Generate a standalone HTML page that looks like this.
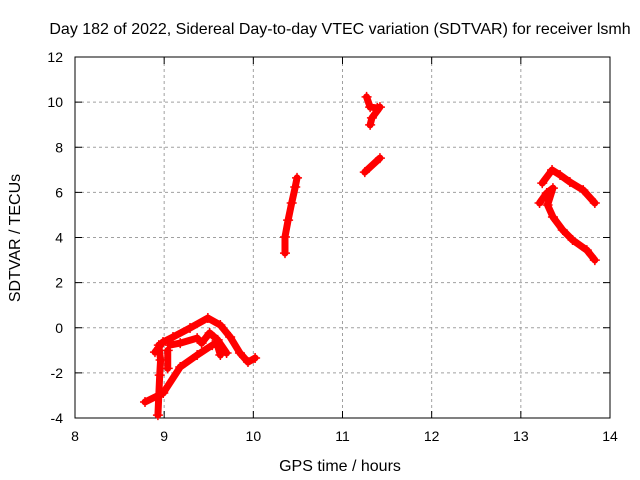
<!DOCTYPE html>
<html><head><meta charset="utf-8"><style>
body{margin:0;background:#fff}
svg{display:block;font-family:"Liberation Sans",sans-serif}
</style></head><body>
<svg id="c" width="640" height="480"></svg>
<script>
const xTicks=[8,9,10,11,12,13,14];
const yTicks=[-4,-2,0,2,4,6,8,10,12];
const trackA=[[8.897,-1.08],[8.987,-0.63],[9.099,-0.41],[9.29,-0.01],[9.49,0.43],[9.63,0.12],[9.74,-0.41],[9.85,-1.12],[9.94,-1.52],[10.02,-1.34]];
const trackB=[[9.065,-0.77],[9.18,-0.68],[9.37,-0.46],[9.42,-0.68],[9.51,-0.23],[9.60,-0.54],[9.70,-1.12]];
const trackC=[[8.785,-3.29],[8.99,-2.89],[9.18,-1.74],[9.37,-1.21],[9.54,-0.77],[9.59,-0.68],[9.63,-1.21]];
const trackD=[[8.93,-3.87],[8.94,-2.98],[8.95,-2.10],[8.96,-1.43],[8.94,-0.77]];
const trackD2=[[9.04,-1.0],[9.04,-1.8]];
const trackG=[[10.355,3.31],[10.355,4.02],[10.39,4.77],[10.43,5.53],[10.47,6.24],[10.49,6.64]];
const trackH=[[11.27,10.23],[11.31,9.78],[11.39,9.74],[11.42,9.78],[11.33,9.3],[11.31,8.99]];
const trackI=[[11.25,6.9],[11.42,7.52]];
const trackE=[[13.24,6.41],[13.35,6.99],[13.44,6.77],[13.55,6.46],[13.70,6.10],[13.83,5.53]];
const trackF=[[13.21,5.53],[13.29,5.97],[13.36,6.19],[13.30,5.44],[13.36,4.91],[13.47,4.33],[13.58,3.89],[13.74,3.44],[13.83,3.0]];
const tracks=[trackA,trackB,trackC,trackD,trackD2,trackG,trackH,trackI,trackE,trackF];
const L=75,R=610,T=57,B=418;
const sx=v=>L+(v-8)/6*(R-L);
const sy=v=>B-(v+4)/16*(B-T);
const svg=document.getElementById('c');
const NS='http://www.w3.org/2000/svg';
function mk(t,a){const e=document.createElementNS(NS,t);for(const k in a)e.setAttribute(k,a[k]);svg.appendChild(e);return e;}
xTicks.forEach(v=>{
 if(v>8&&v<14){const g=mk('line',{x1:sx(v),x2:sx(v),y1:T,y2:B,stroke:'#a0a0a0','stroke-dasharray':'3,3'});
 
 }
 mk('line',{x1:sx(v),x2:sx(v),y1:B,y2:B-7,stroke:'#000'});
 mk('line',{x1:sx(v),x2:sx(v),y1:T,y2:T+7,stroke:'#000'});
 const t=mk('text',{x:sx(v),y:B+23,'font-size':14,'text-anchor':'middle'});t.textContent=v;
 
 
});
yTicks.forEach(v=>{
 if(v>-4&&v<12){const g=mk('line',{x1:L,x2:R,y1:sy(v),y2:sy(v),stroke:'#a0a0a0','stroke-dasharray':'3,3'});
 
 }
 mk('line',{x1:L,x2:L+7,y1:sy(v),y2:sy(v),stroke:'#000'});
 mk('line',{x1:R,x2:R-7,y1:sy(v),y2:sy(v),stroke:'#000'});
 const t=mk('text',{x:L-12,y:sy(v)+5,'font-size':14,'text-anchor':'end'});t.textContent=v;
 
 
});
const fr=mk('rect',{x:L,y:T,width:R-L,height:B-T,fill:'none',stroke:'#000'});


tracks.forEach(tr=>{
 const pl=mk('polyline',{points:tr.map(p=>sx(p[0])+','+sy(p[1])).join(' '),fill:'none',stroke:'#f00','stroke-width':7,'stroke-linejoin':'round','stroke-linecap':'round'});
 
 
 tr.forEach(p=>{const x=sx(p[0]),y=sy(p[1]);
  const m=mk('path',{d:`M${x-5},${y}H${x+5}M${x},${y-5}V${y+5}`,stroke:'#f00','stroke-width':1.5});
  
  });
});
let t=mk('text',{x:340,y:34,'font-size':16,'text-anchor':'middle'});
t.textContent='Day 182 of 2022, Sidereal Day-to-day VTEC variation (SDTVAR) for receiver lsmh';


t=mk('text',{x:340,y:471,'font-size':16,'text-anchor':'middle'});
t.textContent='GPS time / hours';


t=mk('text',{x:0,y:0,'font-size':16,'text-anchor':'middle',transform:'translate(20,238) rotate(-90)'});
t.textContent='SDTVAR / TECUs';


</script>
</body></html>
